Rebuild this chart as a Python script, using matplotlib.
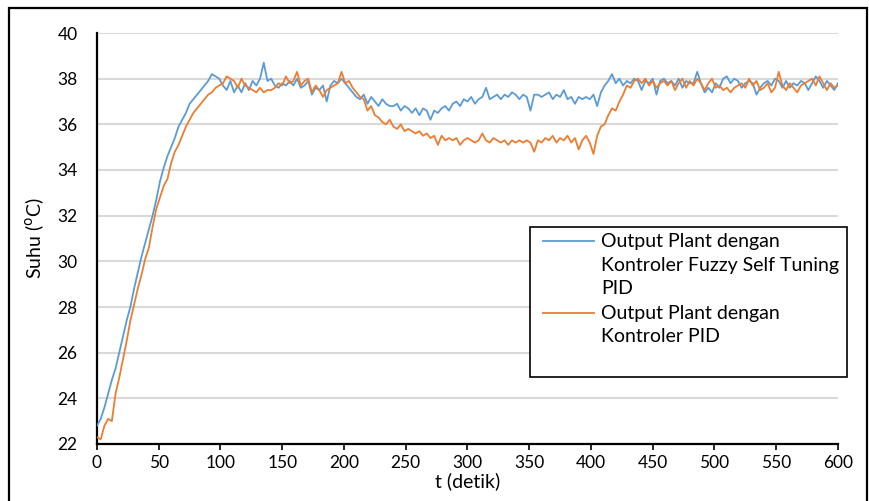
import matplotlib
matplotlib.use("Agg")
import matplotlib.pyplot as plt
from matplotlib.patches import Rectangle
from matplotlib.lines import Line2D
import numpy as np

plt.rcParams['font.family'] = ['Lato', 'DejaVu Sans']

# time axis (s), sampled every 3 s
t = np.arange(0, 601, 3)

fuzzy_pid = [
    22.8, 23.1, 23.6, 24.2, 24.8, 25.3, 26.0, 26.7, 27.4, 28.0,   # 0-27
    28.8, 29.5, 30.2, 30.8, 31.4, 32.0, 32.7, 33.5, 34.1, 34.6,   # 30-57
    35.0, 35.4, 35.9, 36.2, 36.5, 36.9, 37.1, 37.3, 37.5, 37.7,   # 60-87
    37.9, 38.2, 38.1, 38.0, 37.7, 37.5, 37.9, 37.4, 37.7, 37.4,   # 90-117
    37.8, 37.5, 37.9, 37.7, 38.0, 38.7, 37.9, 38.0, 37.7, 37.6,   # 120-147
    37.8, 37.7, 37.9, 37.7, 38.0, 37.6, 37.7, 37.9, 37.3, 37.6,   # 150-177
    37.5, 37.7, 37.0, 37.7, 37.9, 37.8, 38.0, 37.8, 37.6, 37.4,   # 180-207
    37.2, 37.1, 37.3, 36.9, 37.2, 37.0, 36.8, 37.1, 36.9, 36.8,   # 210-237
    36.8, 36.9, 36.6, 36.8, 36.7, 36.5, 36.7, 36.4, 36.7, 36.6,   # 240-267
    36.2, 36.6, 36.5, 36.7, 36.8, 36.6, 36.9, 37.0, 36.8, 37.1,   # 270-297
    37.0, 37.2, 36.9, 37.1, 37.2, 37.6, 37.1, 37.2, 37.3, 37.1,   # 300-327
    37.3, 37.2, 37.4, 37.3, 37.1, 37.3, 37.2, 36.6, 37.3, 37.3,   # 330-357
    37.2, 37.3, 37.4, 37.1, 37.3, 37.2, 37.5, 37.1, 37.2, 36.9,   # 360-387
    37.2, 37.1, 37.2, 37.1, 37.3, 36.8, 37.4, 37.7, 37.9, 38.2,   # 390-417
    37.8, 38.0, 37.7, 37.9, 37.8, 38.0, 37.9, 37.5, 37.9, 37.8,   # 420-447
    38.0, 37.3, 37.9, 38.0, 37.8, 37.9, 37.7, 38.0, 37.6, 37.9,   # 450-477
    37.8, 37.8, 38.3, 37.8, 37.4, 37.6, 37.4, 37.8, 37.6, 38.0,   # 480-507
    38.1, 37.8, 38.0, 37.9, 37.6, 37.8, 37.9, 37.8, 37.3, 37.6,   # 510-537
    37.8, 37.9, 37.7, 38.0, 37.9, 37.6, 37.9, 37.6, 37.8, 37.7,   # 540-567
    37.9, 37.8, 37.5, 37.8, 38.1, 37.9, 37.6, 37.9, 37.7, 37.5,   # 570-597
    37.8,                                                         # 600
]

pid = [
    22.3, 22.2, 22.8, 23.1, 23.0, 24.2, 24.9, 25.7, 26.5, 27.4,   # 0-27
    28.1, 28.8, 29.4, 30.1, 30.6, 31.5, 32.3, 32.8, 33.3, 33.6,   # 30-57
    34.3, 34.8, 35.1, 35.5, 35.9, 36.2, 36.5, 36.7, 36.9, 37.1,   # 60-87
    37.3, 37.4, 37.6, 37.7, 37.8, 38.1, 38.0, 37.9, 37.6, 38.0,   # 90-117
    37.7, 37.6, 37.5, 37.4, 37.6, 37.4, 37.5, 37.5, 37.6, 37.8,   # 120-147
    37.7, 38.1, 37.8, 37.9, 38.3, 37.7, 37.9, 38.0, 37.4, 37.7,   # 150-177
    37.5, 37.2, 37.5, 37.6, 37.7, 37.8, 38.3, 37.8, 37.9, 37.6,   # 180-207
    37.4, 37.2, 37.1, 36.6, 36.8, 36.4, 36.3, 36.1, 36.0, 36.2,   # 210-237
    35.9, 35.8, 36.0, 35.7, 35.8, 35.7, 35.6, 35.7, 35.5, 35.6,   # 240-267
    35.4, 35.5, 35.1, 35.5, 35.3, 35.4, 35.3, 35.4, 35.1, 35.3,   # 270-297
    35.4, 35.3, 35.2, 35.3, 35.6, 35.3, 35.2, 35.4, 35.3, 35.2,   # 300-327
    35.3, 35.1, 35.3, 35.2, 35.3, 35.2, 35.3, 35.2, 34.8, 35.3,   # 330-357
    35.2, 35.4, 35.3, 35.5, 35.2, 35.4, 35.3, 35.5, 35.2, 35.4,   # 360-387
    34.9, 35.3, 35.5, 35.2, 34.7, 35.5, 35.9, 36.0, 36.4, 36.7,   # 390-417
    36.6, 37.0, 37.3, 37.7, 37.6, 37.9, 38.0, 37.8, 38.0, 37.7,   # 420-447
    37.9, 37.6, 37.8, 37.9, 37.7, 37.9, 37.5, 37.8, 38.0, 37.6,   # 450-477
    37.9, 37.7, 38.0, 37.8, 37.5, 37.8, 38.0, 37.6, 37.7, 37.5,   # 480-507
    37.6, 37.4, 37.6, 37.7, 37.8, 37.6, 38.0, 37.7, 37.9, 37.5,   # 510-537
    37.6, 37.8, 37.4, 37.6, 38.3, 37.7, 37.5, 37.8, 37.6, 37.4,   # 540-567
    37.7, 37.8, 37.9, 38.0, 37.7, 38.1, 37.8, 37.5, 37.8, 37.6,   # 570-597
    37.7,                                                         # 600
]

x_ticks = list(range(0, 601, 50))
y_ticks = list(range(22, 41, 2))
labels = ["Output Plant dengan\nKontroler Fuzzy Self Tuning\nPID",
          "Output Plant dengan\nKontroler PID"]
colors = ["#5B9BD5", "#ED7D31"]

W, H = 870, 501
fig = plt.figure(figsize=(W / 100, H / 100), dpi=100)

def fx(px):
    return px / W

def fy(py):
    return 1 - py / H

ax = fig.add_axes([fx(97), fy(444), fx(838) - fx(97), fy(33) - fy(444)])
ax.plot(t, fuzzy_pid, color=colors[0], lw=1.3, zorder=3)
ax.plot(t, pid, color=colors[1], lw=1.3, zorder=3)

ax.set_xlim(0, 600)
ax.set_ylim(22, 40)
ax.set_xticks(x_ticks)
ax.set_yticks(y_ticks)
ax.yaxis.grid(True, color="#D9D9D9", lw=1.5)
ax.set_axisbelow(True)
for s in ["top", "right"]:
    ax.spines[s].set_visible(False)
for s in ["left", "bottom"]:
    ax.spines[s].set_linewidth(1.6)
    ax.spines[s].set_color("black")
ax.tick_params(axis="y", length=0, pad=14, labelsize=12.5)
ax.tick_params(axis="x", length=4, width=1.2, pad=4, labelsize=12.5, direction="out")

ax.set_xlabel("t (detik)", fontsize=14, labelpad=1)
ax.set_ylabel(r"Suhu ($^{\mathrm{o}}$C)", fontsize=14, labelpad=8)

# outer frame
fig.patches.append(Rectangle((fx(9), fy(520)), fx(867) - fx(9), fy(8) - fy(520),
                             transform=fig.transFigure, fill=False,
                             edgecolor="black", lw=1.6, zorder=0))

# legend (manual, handles aligned to first text line)
fig.patches.append(Rectangle((fx(530), fy(377)), fx(847) - fx(530), fy(227) - fy(377),
                             transform=fig.transFigure, facecolor="white",
                             edgecolor="black", lw=1.2, zorder=5))
for lab, col, y0 in zip(labels, colors, [241, 313]):
    fig.add_artist(Line2D([fx(543), fx(594)], [fy(y0), fy(y0)],
                          transform=fig.transFigure, color=col, lw=1.3, zorder=6))
    for i, line in enumerate(lab.split("\n")):
        fig.text(fx(601), fy(y0 + 24 * i), line, fontsize=14,
                 va="center", ha="left", zorder=6)

fig.savefig("out.png", dpi=100)
